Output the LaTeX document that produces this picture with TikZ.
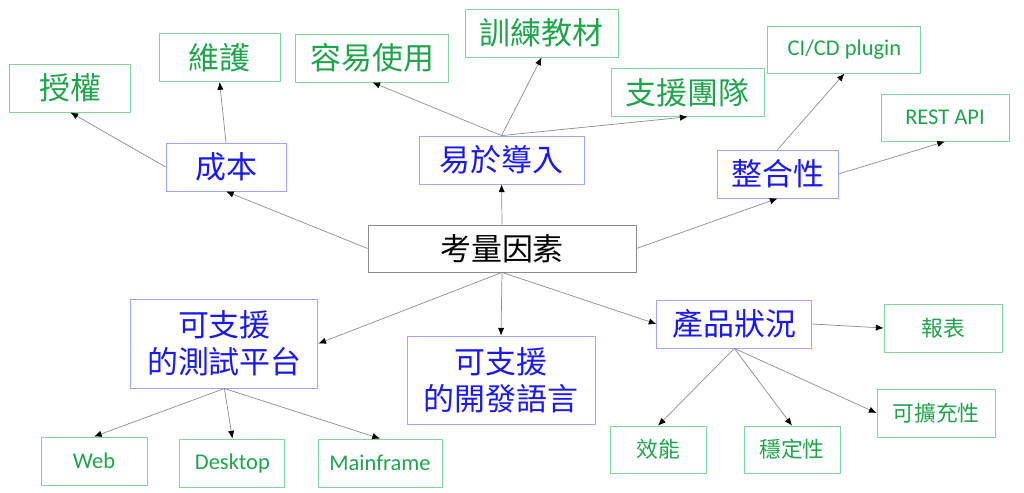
\documentclass[tikz,border=0pt]{standalone}
\usepackage{fontspec}
\setmainfont{Noto Sans CJK TC}
\newfontfamily\latinfont{Carlito}
\usepackage{xcolor}
\usepackage{tikz}
\usetikzlibrary{arrows.meta,positioning}
\definecolor{mainblue}{HTML}{1A1AF0}
\definecolor{mainline}{HTML}{A3A3FF}
\definecolor{subgreen}{HTML}{1EA54B}
\definecolor{subline}{HTML}{82D59C}
\definecolor{rootline}{HTML}{8C8C8C}

\begin{document}
\begin{tikzpicture}[
  base/.style={draw,inner sep=0pt,align=center,line width=0.6pt},
  root/.style={base,draw=rootline,minimum width=6.7cm,minimum height=1.175cm,
    font=\fontsize{22}{26}\selectfont},
  topic/.style={base,draw=mainline,text=mainblue,minimum height=1.2cm,
    font=\fontsize{22}{26.5}\selectfont},
  item/.style={base,draw=subline,text=subgreen,minimum height=1.2cm,
    font=\fontsize{22}{26}\selectfont},
  small/.style={item,font=\fontsize{15.5}{18}\selectfont},
  latin/.style={item,font=\latinfont\fontsize{16}{19}\selectfont},
  arrow/.style={-{Latex[length=5.5pt,width=4.5pt,color=black]},line width=0.5pt,color=black!45}
]
\useasboundingbox (0,0) rectangle (25.6,-12.325);
\node[root] (factor) at (12.55,-6.2125) {考量因素};
\node[topic,minimum width=3cm] (cost) at (5.65,-4.175) {成本};
\node[topic,minimum width=4.125cm] (adopt) at (12.54,-4.0) {易於導入};
\node[topic,minimum width=3.025cm] (integ) at (19.44,-4.35) {整合性};
\node[topic,minimum width=4.675cm,minimum height=2.225cm] (platform) at (5.61,-8.59) {可支援\\的測試平台};
\node[topic,minimum width=4.7cm,minimum height=2.2cm] (lang) at (12.525,-9.5) {可支援\\的開發語言};
\node[topic,minimum width=3.875cm] (product) at (18.36,-8.1) {產品狀況};
\node[item,minimum width=3.025cm] (license) at (1.76,-2.2) {授權};
\node[item,minimum width=3.025cm] (maint) at (5.49,-1.44) {維護};
\node[item,minimum width=3.825cm] (easy) at (9.31,-1.45) {容易使用};
\node[item,minimum width=3.825cm] (train) at (13.54,-0.825) {訓練教材};
\node[item,minimum width=3.825cm] (team) at (17.19,-2.31) {支援團隊};
\node[latin,minimum width=3.825cm,minimum height=1.175cm] (cicd) at (21.11,-1.24) {CI/CD plugin};
\node[latin,minimum width=3.2cm,minimum height=1.175cm] (rest) at (23.625,-2.94) {REST API};
\node[small,minimum width=2.95cm] (report) at (23.575,-8.2) {報表};
\node[small,minimum width=2.95cm] (scale) at (23.4,-10.325) {可擴充性};
\node[small,minimum width=2.4cm,minimum height=1.175cm] (perf) at (16.45,-11.24) {效能};
\node[small,minimum width=2.4cm,minimum height=1.175cm] (stable) at (19.8,-11.24) {穩定性};
\node[latin,minimum width=2.65cm] (web) at (2.35,-11.525) {Web};
\node[latin,minimum width=2.625cm] (desktop) at (5.81,-11.575) {Desktop};
\node[latin,minimum width=3.1cm] (mainframe) at (9.5,-11.575) {Mainframe};
\draw[arrow] (factor.west) -- (cost.south);
\draw[arrow] (factor.north) -- (adopt.south);
\draw[arrow] (factor.east) -- (integ.south);
\draw[arrow] (factor.south) -- (platform.east);
\draw[arrow] (factor.south) -- (lang.north);
\draw[arrow] (factor.south) -- (product.west);
\draw[arrow] (cost.west) -- (license.south);
\draw[arrow] (cost.north) -- (maint.south);
\draw[arrow] (adopt.north) -- (easy.south);
\draw[arrow] (adopt.north) -- (train.south);
\draw[arrow] (adopt.north) -- (team.south);
\draw[arrow] (integ.north) -- (cicd.south);
\draw[arrow] (integ.east) -- (rest.south);
\draw[arrow] (platform.south) -- (web.north);
\draw[arrow] (platform.south) -- (desktop.north);
\draw[arrow] (platform.south) -- (mainframe.north);
\draw[arrow] (product.east) -- (report.west);
\draw[arrow] (product.south) -- (perf.north);
\draw[arrow] (product.south) -- (stable.north);
\draw[arrow] (product.south) -- (scale.west);
\end{tikzpicture}
\end{document}
